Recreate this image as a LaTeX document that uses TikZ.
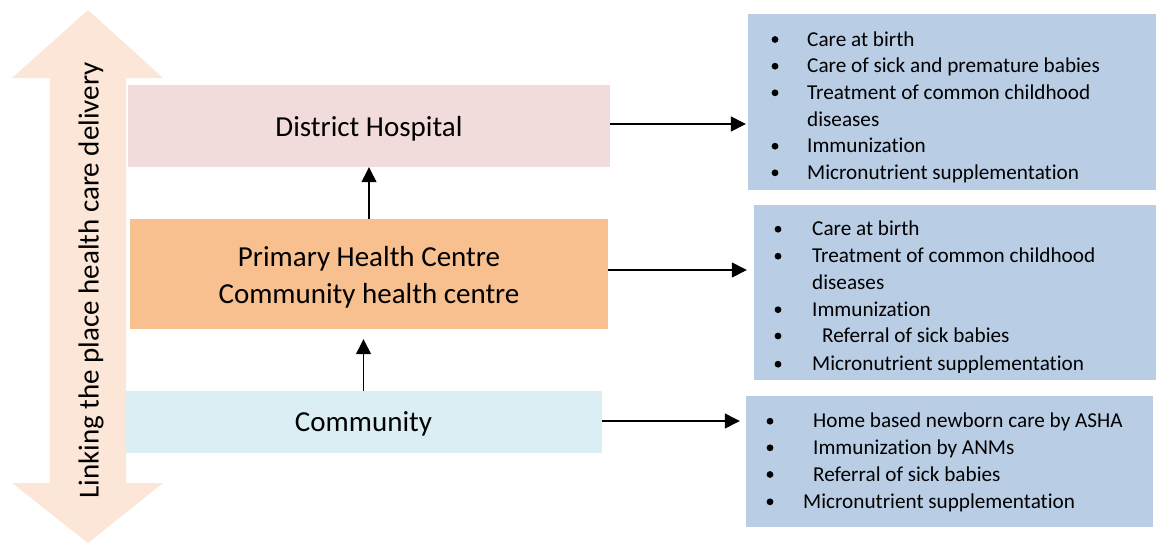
\documentclass[tikz,border=0pt]{standalone}
\usepackage{fontspec}
\setmainfont{Carlito}[Ligatures={NoCommon}]
\usetikzlibrary{arrows.meta}
\definecolor{arrowcol}{HTML}{FBE6D7}
\definecolor{dhcol}{HTML}{F2DCDB}
\definecolor{phccol}{HTML}{F8BF8F}
\definecolor{comcol}{HTML}{DBEEF3}
\definecolor{listcol}{HTML}{B9CDE5}
\tikzset{
  levelbox/.style={draw=none, rectangle, inner sep=0pt, font=\fontsize{29}{36.7}\selectfont},
  listbox/.style={draw=none, rectangle, inner sep=0pt, fill=listcol},
  item/.style={anchor=base west, inner sep=0pt, font=\fontsize{21.2}{26.7}\selectfont},
  conn/.style={line width=1.3pt, -{Triangle[length=15pt,width=15pt]}},
}
\newcommand{\bul}[2]{\fill (#1,#2) circle[radius=3.4pt];}
\begin{document}
\begin{tikzpicture}[x=1pt,y=-1pt]
\useasboundingbox (0,0) rectangle (1156,544);
% big double arrow
\fill[arrowcol] (88,10) -- (163,78) -- (126,78) -- (126,483) -- (163,483) -- (88,543)
  -- (12,483) -- (50,483) -- (50,78) -- (12,78) -- cycle;
\node[rotate=90, anchor=base, inner sep=0pt, font=\fontsize{29}{35}\selectfont] (link) at (98.5,280.5) {Linking the place health care delivery};
% level boxes
\node[levelbox, fill=dhcol, minimum width=482pt, text height=51pt, text depth=31pt] (dh) at (369,126) {District Hospital};
\node[levelbox, fill=phccol, minimum width=478pt, minimum height=110pt, align=center] (phc) at (369,274) {\rule{0pt}{27pt}Primary Health Centre\\Community health centre};
\node[levelbox, fill=comcol, minimum width=477pt, text height=40pt, text depth=22pt] (com) at (363.5,422) {Community};
% list boxes
\node[listbox, minimum width=408pt, minimum height=176pt] (b1) at (952,102) {};
\node[listbox, minimum width=402pt, minimum height=175pt] (b2) at (955,292.5) {};
\node[listbox, minimum width=407pt, minimum height=131pt] (b3) at (949.5,461.5) {};
% box 1 items
\node[item] (t11) at (807,46) {Care at birth};
\node[item] (t12) at (807,72.7) {Care of sick and premature babies};
\node[item] (t13) at (807,99.3) {Treatment of common childhood};
\node[item] (t14) at (807,126) {diseases};
\node[item] (t15) at (807,152.7) {Immunization};
\node[item] (t16) at (807,179.3) {Micronutrient supplementation};
\bul{775}{39.5}\bul{775}{66.2}\bul{775}{92.8}\bul{775}{146.2}\bul{775}{172.8}
% box 2 items
\begin{scope}
\clip (754,205) rectangle (1156,372.7);
\node[item] (t21) at (812,235.7) {Care at birth};
\node[item] (t22) at (812,262.7) {Treatment of common childhood};
\node[item] (t23) at (812,289.7) {diseases};
\node[item] (t24) at (812,316.2) {Immunization};
\node[item] (t25) at (822,342.5) {Referral of sick babies};
\node[item] (t26) at (812,370.7) {Micronutrient supplementation};
\bul{778}{229.2}\bul{778}{256.2}\bul{778}{309.7}\bul{778}{336}\bul{778}{364.2}
\end{scope}
% box 3 items
\node[item] (t31) at (813,427.7) {Home based newborn care by ASHA};
\node[item] (t32) at (813,454.3) {Immunization by ANMs};
\node[item] (t33) at (813,481) {Referral of sick babies};
\node[item] (t34) at (803,508.3) {Micronutrient supplementation};
\bul{770}{421.2}\bul{770}{447.8}\bul{770}{474.5}\bul{770}{501.8}
% connectors
\coordinate (s1) at ([yshift=2pt]dh.east);
\coordinate (s2) at ([yshift=4pt]phc.east);
\coordinate (s3) at ([yshift=1pt]com.east);
\draw[conn, shorten >=2pt] (s1) -- (s1 -| b1.west);
\draw[conn, shorten >=7pt] (s2) -- (s2 -| b2.west);
\draw[conn, shorten >=6pt] (s3) -- (s3 -| b3.west);
\draw[conn] (phc.north) -- (dh.south);
\coordinate (c1) at ([yshift=-10pt]phc.south -| com.north);
\draw[conn] (com.north) -- (c1);
\end{tikzpicture}
\end{document}
